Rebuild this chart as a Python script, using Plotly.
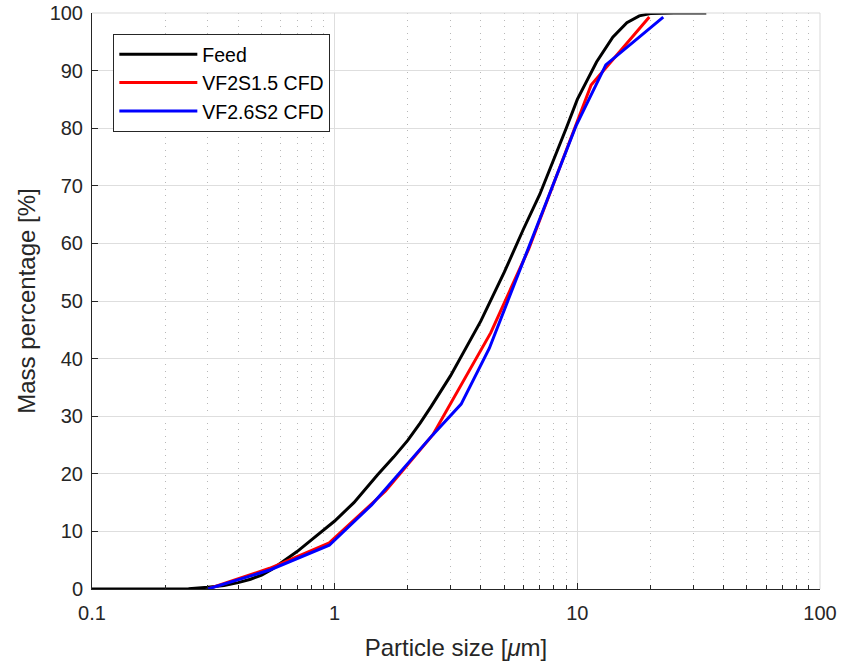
import plotly.graph_objects as go

# Feed (measured) cumulative distribution
feed_x = [0.1, 0.2, 0.25, 0.3, 0.35, 0.4, 0.45, 0.5, 0.55, 0.6, 0.65, 0.7, 0.8, 0.9, 1.0,
          1.2, 1.5, 1.75, 2.0, 2.25, 2.5, 3.0, 3.5, 4.0, 5.0, 6.0, 7.0, 8.0, 9.0, 10.0,
          12.0, 14.0, 16.0, 18.0, 20.0, 25.0, 34.0]
feed_y = [0, 0, 0.05, 0.3, 0.6, 1.1, 1.7, 2.4, 3.4, 4.5, 5.5, 6.5, 8.5, 10.2, 11.8,
          15.0, 19.8, 22.9, 25.8, 28.8, 31.7, 37.0, 42.0, 46.5, 55.0, 62.5, 68.5, 74.5, 80.0, 85.0,
          91.5, 95.8, 98.3, 99.5, 99.9, 100, 100]

# VF2S1.5 CFD
red_x = [0.3, 0.54, 0.95, 1.62, 2.54, 4.4, 6.3, 9.9, 11.4, 19.8]
red_y = [0, 3.6, 8.0, 17.0, 26.8, 44.5, 59.0, 80.5, 87.5, 99.3]

# VF2.6S2 CFD
blue_x = [0.3, 0.54, 0.95, 1.42, 2.54, 3.32, 4.34, 9.9, 13.1, 22.6]
blue_y = [0, 3.3, 7.6, 14.6, 26.8, 32.1, 41.8, 80.5, 91.0, 99.3]

x_ticks = [0.1, 1, 10, 100]
x_labels = ["0.1", "1", "10", "100"]
y_ticks = list(range(0, 101, 10))

axis_col = "#262626"
font_fam = "Liberation Sans, Arial, sans-serif"

fig = go.Figure()
fig.add_trace(go.Scatter(x=feed_x, y=feed_y, mode="lines", name="Feed", legendgroup="a",
                         line=dict(color="black", width=3)))
fig.add_trace(go.Scatter(x=red_x, y=red_y, mode="lines", name="VF2S1.5 CFD", legendgroup="b",
                         line=dict(color="#ff0000", width=3)))
fig.add_trace(go.Scatter(x=blue_x, y=blue_y, mode="lines", name="VF2.6S2 CFD", legendgroup="c",
                         line=dict(color="#0000ff", width=3)))

fig.update_layout(
    width=842, height=665,
    margin=dict(l=92, r=22, t=13, b=76),
    paper_bgcolor="white", plot_bgcolor="white",
    font=dict(family=font_fam, color=axis_col, size=20),
    legend=dict(x=0.0293, y=0.9635, xanchor="left", yanchor="top",
                bgcolor="white", bordercolor=axis_col, borderwidth=1,
                font=dict(size=19.5, color="black"), itemwidth=78,
                tracegroupgap=0),
    shapes=[
        dict(type="line", xref="paper", yref="paper", x0=0, x1=1, y0=1, y1=1,
             line=dict(color="#d9d9d9", width=1)),
        dict(type="line", xref="paper", yref="paper", x0=1, x1=1, y0=0, y1=1,
             line=dict(color="#d9d9d9", width=1)),
    ],
)

fig.update_xaxes(
    type="log", range=[-1, 2], automargin=False,
    tickvals=x_ticks, ticktext=x_labels,
    ticks="inside", ticklen=6, tickcolor=axis_col,
    showline=True, linecolor=axis_col, linewidth=1,
    showgrid=True, gridcolor="#dedede", gridwidth=1,
    zeroline=False, ticklabelstandoff=6,
    minor=dict(dtick="D1", ticks="inside", ticklen=4, tickcolor=axis_col,
               showgrid=True, gridcolor="#b8b8b8", griddash="1px,5.5px", gridwidth=1),
    title=dict(text="Particle size [<i>μ</i>m]", font=dict(size=24), standoff=16),
    tickfont=dict(size=20),
)
fig.update_yaxes(
    range=[0, 100], tickvals=y_ticks, automargin=False,
    ticks="inside", ticklen=6, tickcolor=axis_col,
    showline=True, linecolor=axis_col, linewidth=1,
    showgrid=True, gridcolor="#dedede", gridwidth=1,
    zeroline=False, ticklabelstandoff=4,
    title=dict(text="Mass percentage [%]", font=dict(size=24), standoff=7),
    tickfont=dict(size=20),
)

fig.write_html("out.html", config={"displayModeBar": False},
               post_script="document.body.style.margin='0';")
